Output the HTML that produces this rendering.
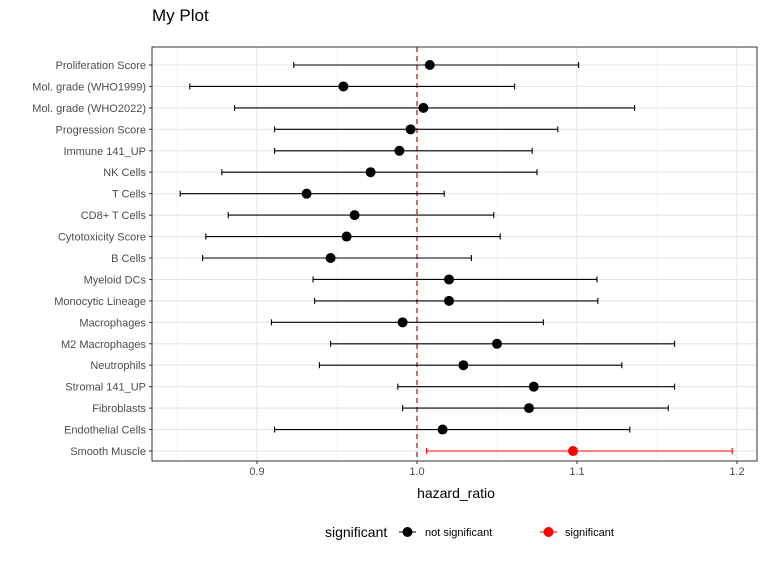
<!DOCTYPE html>
<html><head><meta charset="utf-8"><style>
body{margin:0;background:#fff;font-family:"Liberation Sans",sans-serif}
svg text{font-family:"Liberation Sans",sans-serif}
</style></head><body>
<svg id="c" width="768" height="576" xmlns="http://www.w3.org/2000/svg">
<text x="152" y="21" font-size="17" fill="#000">My Plot</text>
<g id="grid"></g><g id="marks"></g><g id="axes"></g>
<text x="456" y="498" font-size="14" text-anchor="middle" fill="#000">hazard_ratio</text>
<g>
<text x="325" y="537" font-size="14" fill="#000">significant</text>
<g>
<line x1="399" x2="416" y1="532" y2="532" stroke="#000"/><circle cx="407.5" cy="532" r="5" fill="#000"/>
<text x="425" y="536" font-size="11" fill="#000">not significant</text></g>
<g>
<line x1="540" x2="557" y1="532" y2="532" stroke="red"/><circle cx="548.5" cy="532" r="5" fill="red"/>
<text x="565" y="536" font-size="11" fill="#000">significant</text></g>
</g>
</svg>
<script>
const categories=["Proliferation Score","Mol. grade (WHO1999)","Mol. grade (WHO2022)","Progression Score","Immune 141_UP","NK Cells","T Cells","CD8+ T Cells","Cytotoxicity Score","B Cells","Myeloid DCs","Monocytic Lineage","Macrophages","M2 Macrophages","Neutrophils","Stromal 141_UP","Fibroblasts","Endothelial Cells","Smooth Muscle"];
const hr=[1.008,0.954,1.004,0.996,0.989,0.971,0.931,0.961,0.956,0.946,1.020,1.020,0.991,1.050,1.029,1.073,1.070,1.016,1.0975];
const lower=[0.923,0.858,0.886,0.911,0.911,0.878,0.852,0.882,0.868,0.866,0.935,0.936,0.909,0.946,0.939,0.988,0.991,0.911,1.006];
const upper=[1.101,1.061,1.136,1.088,1.072,1.075,1.017,1.048,1.052,1.034,1.1125,1.113,1.079,1.161,1.128,1.161,1.157,1.133,1.197];
const significant=[0,0,0,0,0,0,0,0,0,0,0,0,0,0,0,0,0,0,1];
const xTicks=[0.9,1.0,1.1,1.2];
const xTickLabels=["0.9","1.0","1.1","1.2"];
const xMinor=[0.85,0.95,1.05,1.15];
const L=152,R=757,T=47,B=461;
const x=v=>257+(v-0.9)*1600;
const y=i=>65+i*(451-65)/(categories.length-1);
const NS="http://www.w3.org/2000/svg";
function mk(p,t,a){const e=document.createElementNS(NS,t);for(const k in a)e.setAttribute(k,a[k]);p.appendChild(e);return e;}
const g=document.getElementById('grid'),m=document.getElementById('marks'),ax=document.getElementById('axes');
mk(g,'rect',{x:L,y:T,width:R-L,height:B-T,fill:'#fff'});
xMinor.forEach(v=>{const l=mk(g,'line',{x1:x(v),x2:x(v),y1:T,y2:B,stroke:'#f0f0f0','stroke-width':0.6});

});
xTicks.forEach((v,i)=>{const l=mk(g,'line',{x1:x(v),x2:x(v),y1:T,y2:B,stroke:'#e5e5e5','stroke-width':1.1});


mk(ax,'line',{x1:x(v),x2:x(v),y1:B,y2:B+3,stroke:'#333'});
const t=mk(ax,'text',{x:x(v),y:B+14,'font-size':11,'text-anchor':'middle',fill:'#4d4d4d'});t.textContent=xTickLabels[i];

});
categories.forEach((c,i)=>{const l=mk(g,'line',{x1:L,x2:R,y1:y(i),y2:y(i),stroke:'#e5e5e5','stroke-width':1.1});


mk(ax,'line',{x1:L-3,x2:L,y1:y(i),y2:y(i),stroke:'#333'});
const t=mk(ax,'text',{x:L-6,y:y(i)+4,'font-size':11,'text-anchor':'end',fill:'#4d4d4d'});t.textContent=c;

});
const ref=mk(m,'line',{x1:x(1),x2:x(1),y1:T,y2:B,stroke:'#b22222','stroke-width':1.3,'stroke-dasharray':'5,4'});


categories.forEach((c,i)=>{const col=significant[i]?'red':'#000';const yy=y(i);
const eg=mk(m,'g',{});


mk(eg,'line',{x1:x(lower[i]),x2:x(upper[i]),y1:yy,y2:yy,stroke:col,'stroke-width':1.1});
mk(eg,'line',{x1:x(lower[i]),x2:x(lower[i]),y1:yy-3,y2:yy+3,stroke:col,'stroke-width':1.1});
mk(eg,'line',{x1:x(upper[i]),x2:x(upper[i]),y1:yy-3,y2:yy+3,stroke:col,'stroke-width':1.1});
const p=mk(m,'circle',{cx:x(hr[i]),cy:yy,r:5,fill:col});

});
const fr=mk(ax,'rect',{x:L,y:T,width:R-L,height:B-T,fill:'none',stroke:'#333','stroke-width':1});


</script>
</body></html>
